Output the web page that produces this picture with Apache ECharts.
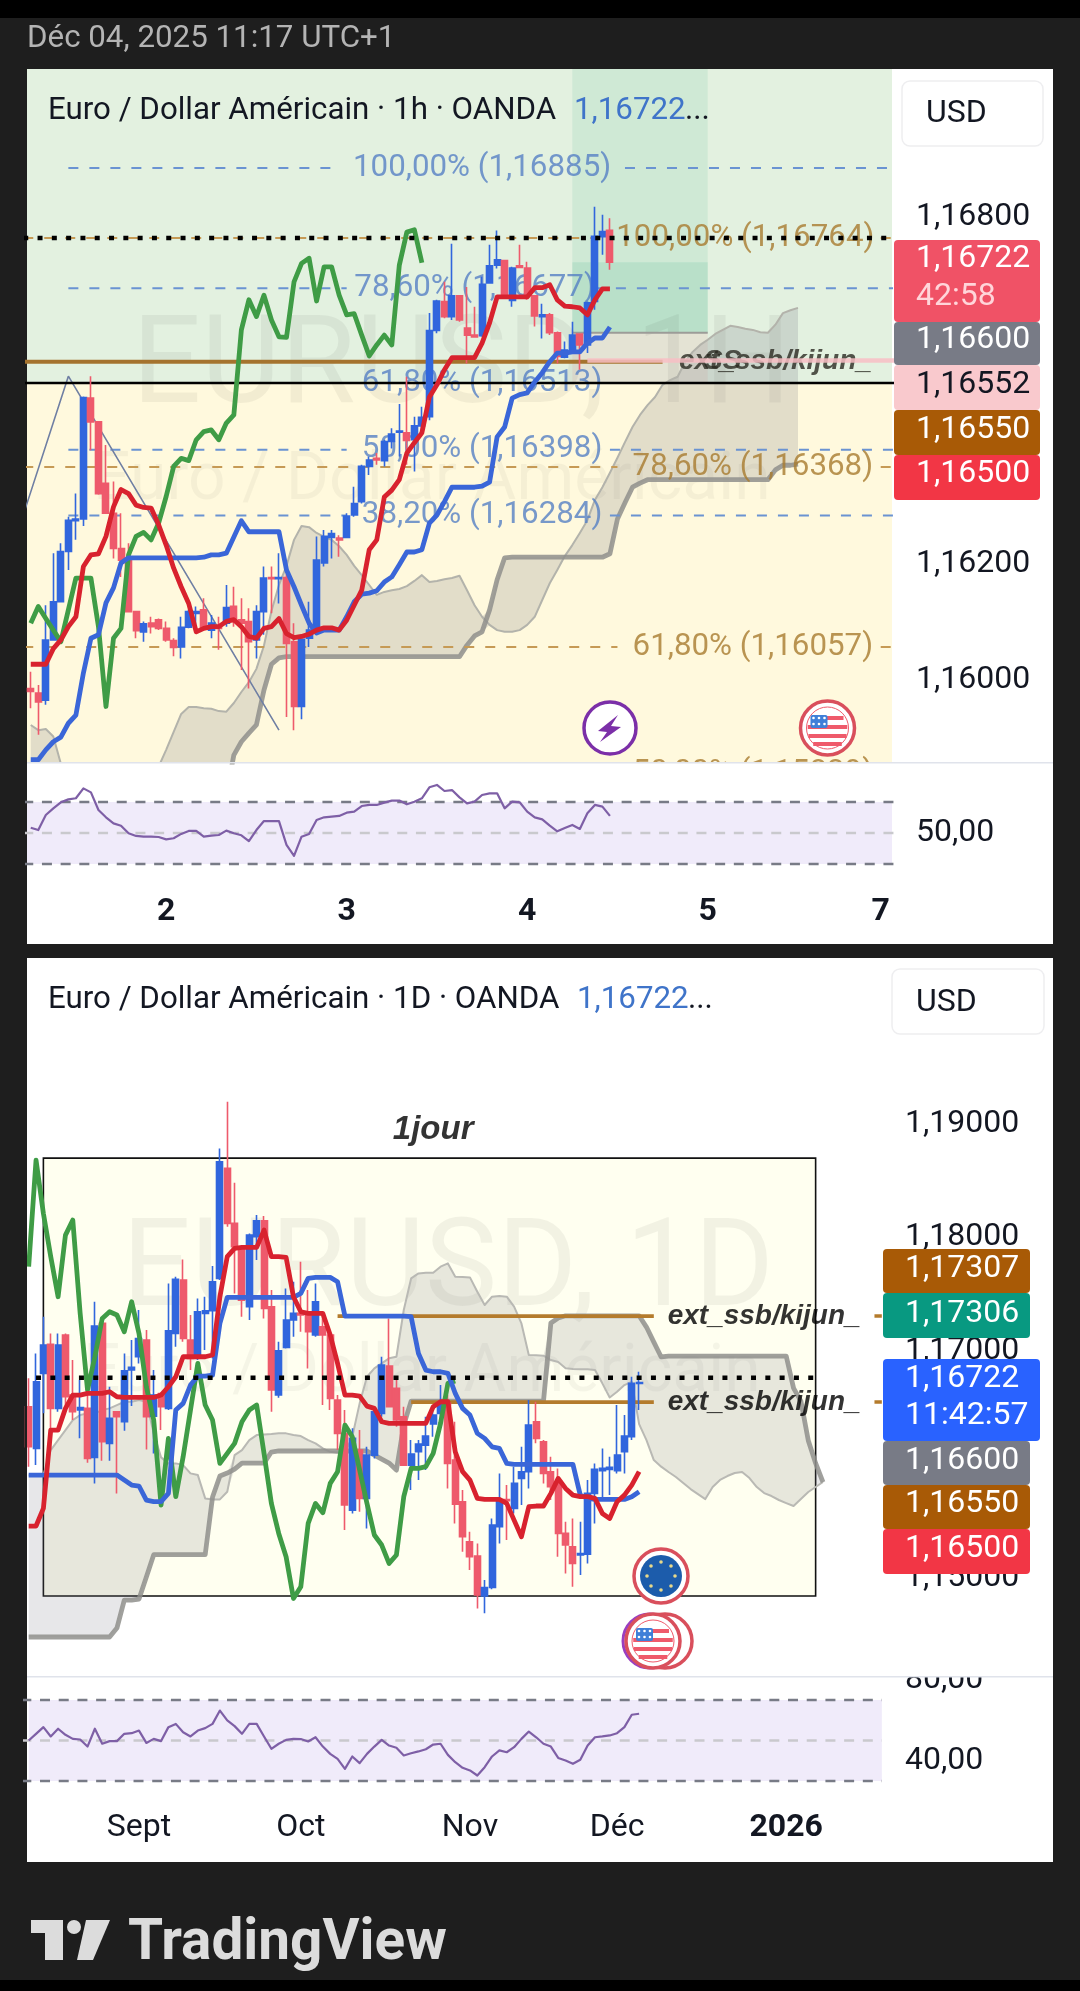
<!DOCTYPE html>
<html><head><meta charset="utf-8">
<style>html,body{margin:0;padding:0;background:#1e1e1e}#c{width:1080px;height:1991px}</style>
<script src="https://cdn.jsdelivr.net/npm/echarts@6/dist/echarts.min.js"></script>
</head><body><div id="c"></div>
<script>
// All prices are stored as points (1e-5) above the 1,16000 quote.
const QUOTE_BASE = 1.16, POINT = 1e-5;

// ---------- 1h chart ----------
const h1Open =[-15,-23,-35,69,135,222,275,278,487,446,340,288,227,210,118,83,98,104,89,68,57,91,115,121,86,92,98,127,104,101,69,118,177,175,177,66,-46,72,86,202,246,245,246,285,308,369,383,379,412,428,427,415,439,455,604,654,628,664,608,596,595,686,717,725,656,716,712,664,628,631,600,558,570,598,579,654,766,777];
const h1Close=[-20,-38,69,135,222,276,278,488,446,322,288,227,207,118,85,97,92,89,69,56,91,118,118,89,98,89,125,101,98,66,118,176,175,177,63,-46,70,86,207,248,253,242,283,305,369,380,380,412,425,430,414,439,454,604,655,628,664,622,596,593,684,716,726,665,712,713,665,629,631,600,559,570,596,579,652,767,775,722];
const h1Low  =[-49,-95,-43,69,135,190,242,266,397,320,288,210,178,118,72,66,80,86,66,41,37,89,89,86,72,52,92,92,17,-15,37,78,115,132,-64,-87,-68,57,86,196,210,213,245,282,305,354,372,369,400,386,372,360,432,449,599,625,622,619,547,593,593,686,711,663,645,712,657,611,590,596,547,556,565,536,565,640,735,709];
const h1High =[14,-9,129,219,236,282,322,490,525,446,406,343,288,236,118,101,109,106,101,72,109,121,127,141,112,109,164,161,141,124,129,196,196,219,184,98,72,135,248,259,259,250,288,334,372,386,392,415,435,477,524,455,472,634,657,688,754,665,679,645,697,752,777,726,714,752,723,665,650,634,602,585,619,599,654,818,804,798];
const h1Tenkan=[27,27,27,54,69,92,109,196,216,218,248,299,329,322,302,298,297,268,233,193,161,132,83,89,92,92,101,104,92,75,72,89,92,106,80,73,75,79,86,90,90,86,103,129,155,225,242,316,328,346,392,410,427,489,510,536,557,557,557,557,582,617,662,662,662,662,662,678,678,683,657,646,645,643,631,657,676,676];
const h1Kijun=[-138,-138,-121,-107,-99,-75,-61,12,72,78,133,159,202,211,211,211,211,211,211,211,211,211,211,212,216,216,219,247,275,256,256,256,256,256,190,161,129,98,81,86,86,86,109,135,148,150,154,169,178,199,221,221,225,271,285,308,333,333,333,333,335,342,420,437,487,493,496,515,531,550,565,565,567,567,582,591,591,610];
const h1Chikou=[98,127,106,86,66,121,176,176,176,92,-46,72,89,216,248,255,242,271,317,369,383,379,415,429,432,415,444,458,605,657,628,665,622,593,592,688,720,729,655,714,714,665,631,633,596,560,579,596,579,717,774,778,721];
const h1SpanA=[-78,-87,-85,-98,-145,null,null,null,null,null,null,null,null,null,null,null,null,-150,-121,-90,-59,-47,-47,-49,-50,-54,-55,-40,-21,-4,19,59,119,164,197,242,266,264,254,247,242,231,216,197,181,164,147,152,155,157,162,171,181,169,171,174,176,180,155,129,109,95,86,83,83,86,95,109,138,167,190,214,233,254,276,311,333,358,384,411,437,458,475,489,510,518,524,550,567,579,588,598,605,612,610,607,605,601,600,614,634,639,643];
const h1SpanB=[-200,-200,-200,-200,-200,-200,-200,-200,-200,-200,-200,-200,-200,-200,-200,-200,-200,-200,-200,-200,-200,-200,-200,-200,-200,-200,-200,-130,-107,-92,-78,-18,27,38,40,40,40,40,40,40,40,40,40,40,40,40,40,40,40,40,40,40,40,40,40,40,40,40,60,76,83,121,173,211,212,212,212,212,212,212,212,212,212,212,212,212,212,218,278,306,333,340,346,346,346,346,346,346,346,346,346,346,346,346,346,346,346,346,346,363,371,371,373];
const h1Rsi=[53.4,51.9,61.6,65.9,69.8,71.7,72.4,78.8,76.2,64.8,60.1,56.2,54.7,49.8,48.1,47.6,47.6,47.4,45.9,46.6,49.4,51.3,51.3,47.6,48.3,48.7,51.5,49.8,48.5,44.8,51.9,57.7,57.7,57.7,42.3,35.2,47.6,49.4,58.4,60.1,60.5,61,63.1,63.8,67.4,68.1,68.1,69.6,70.9,70.9,68.5,70.2,72.4,79.5,81,77.1,77.7,73,69.1,70.2,74.5,75.6,75.6,65.9,70.2,69.8,63.8,60.1,58.8,54.7,51.1,53.2,55.2,52.6,62.7,68.1,67,61];
const h1AxisTicks=[1.168,1.162,1.16];
const h1TickSlots=[18,42,66,90,113], h1TickLabels=['2','3','4','5','7'];
const h1BlueFibs=[1.16885,1.16677,1.16513,1.16398,1.16284];
const h1BlueFibTexts=['100,00% (1,16885)','78,60% (1,16677)','61,80% (1,16513)','50,00% (1,16398)','38,20% (1,16284)'];
const h1OrangeFibs=[1.16764,1.16368,1.16057,1.15839];
const h1OrangeFibTexts=['100,00% (1,16764)','78,60% (1,16368)','61,80% (1,16057)','50,00% (1,15839)'];
const h1TagTexts=[['1,16722','42:58'],['1,16600'],['1,16552'],['1,16550'],['1,16500']];

// ---------- daily chart ----------
const dOpen =[509,143,802,1058,495,1140,612,480,495,64,1242,187,465,377,832,949,1096,427,626,495,1154,1623,1096,949,1330,1354,1638,2606,2122,1917,1389,2004,2145,1389,612,1031,1272,1330,1330,1140,1213,1140,568,275,-400,128,-297,84,451,867,671,421,-4,114,172,357,451,539,40,-326,-678,-804,-1156,-1080,-546,-306,-385,-121,-62,377,201,-62,-165,-605,-722,-795,-787,-253,-54,-42,-54,114,245,715];
const dClose=[157,729,1052,495,1052,597,465,503,55,1219,201,407,421,826,855,1110,421,612,509,1178,1629,1110,934,1345,1354,1609,2664,2122,1917,1447,2019,2145,1374,656,1002,1272,1330,1316,1169,1433,1140,582,275,-355,231,-297,84,465,876,509,392,-4,93,181,251,436,533,11,-347,-634,-810,-1147,-1080,-531,-326,-317,-165,-62,348,231,-77,-194,-605,-707,-869,-781,-253,-42,-33,-24,84,251,715,722];
const dLow  =[-18,-4,451,128,465,495,392,231,17,-165,34,34,-253,298,515,890,134,99,304,480,1037,1081,832,920,1008,934,1623,2092,1506,1301,1272,1799,1286,465,589,1022,1125,1169,846,1125,524,480,128,-575,-429,-414,-561,55,421,509,333,-4,-224,-136,-48,245,333,-209,-517,-766,-927,-1265,-1308,-1097,-693,-663,-429,-356,-209,187,-165,-312,-810,-957,-1074,-971,-869,-517,-312,-268,-77,-77,216,480];
const dHigh =[759,978,1301,1154,1154,1154,920,744,626,1433,1242,685,465,978,1096,1360,1184,832,626,1594,1653,1805,1316,1462,1477,1747,2781,3192,2480,1917,2034,2195,2186,1535,1081,1550,1609,1785,1535,1594,1330,1154,612,480,319,304,157,480,949,1286,759,509,216,216,421,509,700,612,377,-224,-590,-693,-1015,-473,-77,-180,-18,157,568,553,216,70,-33,-502,-473,-502,-136,11,143,70,524,436,773,817];
const dTenkan=[-540,-540,-385,304,304,495,612,612,627,627,627,641,597,591,591,591,591,591,612,685,773,949,949,949,949,964,1477,1829,1902,1911,1911,1911,2063,1829,1829,1823,1477,1345,1330,1330,1330,1140,890,612,612,603,515,495,377,363,363,363,363,363,363,509,553,553,113,-62,-136,-297,-306,-306,-306,-341,-488,-634,-370,-364,-364,-253,-121,-209,-268,-282,-282,-297,-429,-473,-326,-268,-180,-62];
const dKijun=[-92,-92,-92,-92,-92,-92,-92,-92,-92,-92,-92,-92,-92,-136,-180,-188,-312,-326,-326,-253,480,539,700,779,779,788,1242,1471,1471,1471,1471,1471,1471,1471,1471,1471,1471,1506,1638,1647,1647,1647,1609,1307,1307,1307,1307,1307,1307,1307,1307,1307,1301,978,832,817,817,803,627,495,436,275,231,157,143,11,2,2,2,2,2,2,2,2,2,-268,-297,-306,-306,-306,-306,-306,-282,-238];
const dChikou=[1741,2679,2210,1829,1477,2019,2151,1330,656,949,1286,1345,1316,1169,1433,1154,685,392,-355,231,-282,69,480,890,524,392,11,99,187,377,480,524,99,-341,-605,-810,-1177,-1074,-517,-341,-423,-165,-62,348,245,-48,-341,-619,-707,-869,-795,-282,-33,-33,-18,99,363,715,735];
const dSpanA=[-92,-92,-92,128,216,304,392,436,451,451,480,495,524,553,553,568,553,275,64,11,11,-4,-77,-92,-297,-306,-306,-238,84,128,216,260,266,269,275,275,260,251,216,187,143,113,105,102,245,539,773,847,891,935,949,1360,1638,1682,1688,1688,1741,1770,1653,1650,1647,1521,1404,1477,1483,1477,1389,1242,964,961,958,920,902,847,841,838,838,832,715,591,641,700,729,357,216,40,-18,-65,-109,-162,-215,-259,-303,-197,-135,-100,-74,-65,-118,-197,-250,-276,-311,-338,-364,-303,-241,-197,-153];
const dSpanB=[-1516,-1516,-1516,-1516,-1516,-1516,-1516,-1516,-1516,-1516,-1516,-1516,-1437,-1191,-1191,-1182,-989,-792,-792,-792,-792,-792,-792,-792,-792,-285,-100,-74,-39,14,14,14,14,111,120,120,120,120,120,120,120,120,120,120,120,120,120,84,49,14,-48,348,559,559,559,559,559,559,559,559,559,559,559,559,559,559,559,559,559,559,559,1245,1289,1309,1309,1309,1309,1309,1309,1309,1309,1309,1309,1309,1210,1078,947,955,955,955,955,955,955,955,955,955,955,955,955,955,955,955,955,955,673,559,213,13,-153];
const dRsi=[50,53.3,56.6,52,55.8,52.8,50.8,50.5,47,55.8,48.4,49.7,49.7,53.3,53.6,54.9,48.8,50.8,49.7,56.6,58.2,54.1,52,54.9,56.1,58.2,64.8,59.9,57.1,53.3,58.2,58.2,52,45.9,48.4,50.3,50.8,50.7,49.5,51.6,47,43.4,40.9,36,42.1,38.8,43.4,47,50.3,47.5,46.4,42.6,43.7,44.6,45.7,48,48.4,42.9,39.3,36.5,35.2,32.7,36.8,42.1,45.1,44.2,46.7,50.8,54.4,51.6,48.4,47,41.4,40.1,38.5,40.5,47.5,51.6,52,52.5,53.6,56.6,62.7,63.2];
const dAxisTicks=[1.19,1.18,1.17,1.15];
const dTickSlots=[15,37,60,80,103], dTickLabels=['Sept','Oct','Nov','Déc','2026'];
const dLevelHigh=1.17307, dLevelLow=1.1655, dotLevel=1.16764;
const dTagTexts=[['1,17307'],['1,17306'],['1,16722','11:42:57'],['1,16600'],['1,16550'],['1,16500']];
const rsiBands=[70,50,30];

// ---------- helpers ----------
const P=v=>v==null?null:+(QUOTE_BASE+v*POINT).toFixed(5);
const FONT='Roboto, "Noto Sans", sans-serif';
const BLUE='#3166dd', RED='#ee5a6c', TEN='#d8222e', KIJ='#3a66d8', GRN='#3f9c46';
const TS=31.3, AX=32;
const series=[];
const xy=(g)=>({xAxisIndex:g,yAxisIndex:g});
function seg(g,val,from,to,color,width,dash,z,op){
  series.push({type:'line',...xy(g),z,silent:true,symbol:'none',animation:false,
    data:[[from,val],[to,val]],lineStyle:{color,width,type:dash||'solid',opacity:op==null?1:op,cap:'butt'}});
}
function lab(g,x,val,text,style,z){
  series.push({type:'scatter',...xy(g),z,clip:false,silent:true,symbolSize:0,data:[[x,val]],
    label:{show:true,position:'inside',formatter:text,fontFamily:FONT,...style}});
}
function cloud(g,a,b,name,fill,z){
  const low=a.map((v,i)=>v==null||b[i]==null?null:Math.min(v,b[i]));
  const diff=a.map((v,i)=>v==null||b[i]==null?null:Math.abs(v-b[i])*POINT);
  series.push({type:'line',...xy(g),z,stack:name,silent:true,symbol:'none',data:low.map(P),lineStyle:{width:0,opacity:0}});
  series.push({type:'line',...xy(g),z,stack:name,silent:true,symbol:'none',data:diff,lineStyle:{width:0,opacity:0},areaStyle:{color:fill,opacity:1}});
}
function line(g,arr,color,width,z,op){
  series.push({type:'line',...xy(g),z,silent:true,symbol:'none',data:arr.map(P),lineStyle:{color,width,opacity:op==null?1:op,join:'round'}});
}
function rsiLine(g,arr){
  series.push({type:'line',...xy(g),z:12,silent:true,symbol:'none',data:arr,lineStyle:{color:'#7e5fa6',width:2.2,join:'round'}});
}
function candles(g,o,c,l,h,z){
  series.push({type:'candlestick',...xy(g),z,silent:true,barWidth:6.5,
    data:o.map((v,i)=>[P(v),P(c[i]),P(l[i]),P(h[i])]),
    itemStyle:{color:BLUE,color0:RED,borderColor:BLUE,borderColor0:RED,borderWidth:1.6}});
}

// ---------- 1h main ----------
series.push({type:'line',...xy(0),z:1,silent:true,data:[],markArea:{silent:true,data:[
  [{yAxis:1.16513,itemStyle:{color:'#e3f1e0'}},{yAxis:1.17056}],
  [{coord:[72,1.166],itemStyle:{color:'rgba(40,170,120,0.10)'}},{coord:[90,1.17056]}],
  [{coord:[72,1.166],itemStyle:{color:'rgba(40,170,120,0.13)'}},{coord:[90,1.16722]}],
  [{coord:[72,1.16513],itemStyle:{color:'rgba(240,90,100,0.09)'}},{coord:[90,1.166]}]
]}});
cloud(0,h1SpanA,h1SpanB,'c1','rgba(110,112,125,0.20)',2);
line(0,h1SpanA,'#b3b3ab',2,2.2);
line(0,h1SpanB,'#8f8f8c',4.8,2.2,0.85);
const blueGaps=[[5,40,79,116],[5,42,75,116],[5,42,77,116],[5,42,77,116],[5,42,77,116]];
const blueCenters=[60,59,60,60,60];
h1BlueFibs.forEach((v,i)=>{
  const g=blueGaps[i];
  seg(0,v,g[0],g[1],'#6a93d2',2,[10,11],3);seg(0,v,g[2],g[3],'#6a93d2',2,[10,11],3);
  lab(0,blueCenters[i],v,h1BlueFibTexts[i],{color:'#5580c4',fontSize:TS},3);
});
const orangeCenters=[95,96,96,96];
const orangeEnds=[76,78,78];
h1OrangeFibs.forEach((v,i)=>{
  if(i<3){seg(0,v,-1,orangeEnds[i],'#c69a55',2,[10,11],3);seg(0,v,113,116,'#c69a55',2,[10,11],3);}
  lab(0,orangeCenters[i],v,h1OrangeFibTexts[i],{color:'#a87a2e',fontSize:TS},3);
});
seg(0,1.16513,-1,116,'#000',2.5,null,3.5);
seg(0,1.1655,-1,84,'#a5732e',4,null,3.4);
seg(0,1.166,72,90,'#9c9c98',2,null,3.3);
series.push({type:'line',...xy(0),z:3.2,silent:true,symbol:'none',data:[[-1,P(285)],[5,P(525)],[33,P(-87)]],lineStyle:{color:'#6f7fa3',width:1.6}});
candles(0,h1Open,h1Close,h1Low,h1High,4);
line(0,h1Chikou,GRN,4.8,5);
line(0,h1Kijun,KIJ,4.8,5.1);
line(0,h1Tenkan,TEN,4.8,5.2);
seg(0,1.16764,-1,116,'#000',4.5,[5,9.3],5.5);
lab(0,99,1.1655,'ext_ssb/kijun_',{color:'#2a2a22',fontSize:28,fontStyle:'italic',fontWeight:'bold',fontFamily:'"Liberation Sans"'},5.6);
lab(0,92,1.1655,'SS',{color:'#2a2a22',fontSize:28,fontStyle:'italic',fontWeight:'bold',fontFamily:'"Liberation Sans"'},5.6);
seg(0,1.16552,74,116,'rgba(248,190,196,0.85)',4.5,null,5.7);

// ---------- 1h rsi ----------
series.push({type:'line',...xy(1),z:1,silent:true,data:[],markArea:{silent:true,data:[[{yAxis:30,itemStyle:{color:'#f0ebfa'}},{yAxis:70}]]}});
seg(1,rsiBands[0],-1,116,'#787b86',2.5,[10,8.7],2);
seg(1,rsiBands[1],-1,116,'#c9c9cd',2.5,[10,8.7],2);
seg(1,rsiBands[2],-1,116,'#787b86',2.5,[10,8.7],2);
rsiLine(1,h1Rsi);

// ---------- daily main ----------
series.push({type:'line',...xy(2),z:1,silent:true,data:[],markArea:{silent:true,data:[
  [{coord:[2,1.18696],itemStyle:{color:'#fffff0',borderColor:'#111',borderWidth:1.6}},{coord:[107,1.14844]}]
]}});
cloud(2,dSpanA,dSpanB,'c2','rgba(110,112,125,0.17)',2);
line(2,dSpanA,'#b9b9b4',2,2.2);
line(2,dSpanB,'#8f8f8c',4.8,2.2,0.85);
seg(2,dLevelHigh,42,85,'#b47b2c',3.8,null,2.5);
seg(2,dLevelLow,52,85,'#b47b2c',3.8,null,2.5);
candles(2,dOpen,dClose,dLow,dHigh,4);
line(2,dChikou,GRN,4.8,5);
line(2,dKijun,KIJ,4.8,5.1);
line(2,dTenkan,TEN,4.8,5.2);
seg(2,dotLevel,1,107,'#000',4.5,[5,9.3],5.5);
lab(2,100,dLevelHigh,'ext_ssb/kijun_',{color:'#000',fontSize:28,fontStyle:'italic',fontWeight:'bold',fontFamily:'"Liberation Sans"'},6);
lab(2,100,dLevelLow,'ext_ssb/kijun_',{color:'#000',fontSize:28,fontStyle:'italic',fontWeight:'bold',fontFamily:'"Liberation Sans"'},6);
seg(2,dLevelHigh,115,116,'#b47b2c',3.5,null,6);
seg(2,dLevelLow,115,116,'#b47b2c',3.5,null,6);
lab(2,55,1.18947,'1jour',{color:'#000',fontSize:33,fontStyle:'italic',fontWeight:'bold',fontFamily:'"Liberation Sans"'},6);

// ---------- daily rsi ----------
series.push({type:'line',...xy(3),z:1,silent:true,data:[],markArea:{silent:true,data:[[{coord:[0,30],itemStyle:{color:'#f0ebfa'}},{coord:[116,70]}]]}});
seg(3,rsiBands[0],-1,116,'#787b86',2.5,[10,8.7],2);
seg(3,rsiBands[1],-1,116,'#c9c9cd',2.5,[10,8.7],2);
seg(3,rsiBands[2],-1,116,'#787b86',2.5,[10,8.7],2);
rsiLine(3,dRsi);

// ---------- axes ----------
const cats=n=>Array.from({length:n},(_,i)=>'b'+i);
function xAx(g,n,slots,labels){
  const base={type:'category',gridIndex:g,data:cats(n),axisLine:{show:false},axisTick:{show:false},splitLine:{show:false}};
  if(!slots) return {...base,axisLabel:{show:false}};
  return {...base,axisLabel:{show:true,margin:6,hideOverlap:false,fontFamily:FONT,fontSize:AX,color:'#131722',
    interval:(i)=>slots.includes(i),
    formatter:(v,i)=>{const k=slots.indexOf(i);if(k<0)return '';const t=labels[k];return /^\d+$/.test(t)?'{b|'+t+'}':t;},
    rich:{b:{fontWeight:'bold',fontSize:AX,fontFamily:FONT,color:'#131722'}}}};
}
function yAx(g,min,max,ticks,fmt,margin,pad){
  return {type:'value',gridIndex:g,position:'right',min,max,scale:true,axisLine:{show:false},axisTick:{show:false},splitLine:{show:false},
    axisLabel:{show:true,customValues:ticks,formatter:fmt,margin,fontFamily:FONT,fontSize:AX,color:'#131722',padding:pad}};
}
const priceFmt=v=>v.toFixed(5).replace('.',',');
const rsiFmt=v=>v.toFixed(2).replace('.',',');

// ---------- chrome ----------
const G=[];
const rect=(x,y,w,h,fill,z,r,stroke)=>G.push({type:'rect',z,silent:true,shape:{x,y,width:w,height:h,r:r||0},style:{fill,stroke:stroke||null,lineWidth:stroke?1.5:0}});
const text=(x,y,t,font,fill,z,align)=>G.push({type:'text',z,silent:true,x,y,style:{text:t,font,fill,align:align||'left',verticalAlign:'middle',textAlign:align||'left',textVerticalAlign:'middle'}});
const circ=(cx,cy,r,fill,stroke,lw,z)=>G.push({type:'circle',z,silent:true,shape:{cx,cy,r},style:{fill,stroke,lineWidth:lw}});
const poly=(pts,fill,z)=>G.push({type:'polygon',z,silent:true,shape:{points:pts},style:{fill}});

rect(0,0,1080,18,'#000',-9);
rect(0,1980,1080,11,'#000',-9);
rect(27,69,1026,875,'#fff',-9);
rect(27,958,1026,904,'#fff',-9);
text(27,39,'Déc 04, 2025 11:17 UTC+1',TS+'px '+FONT,'#b4b4b4',1);

// watermarks
text(132,371,'EURUSD, 1H','122px '+FONT,'rgba(0,0,0,0.05)',1.5);
text(93,482,'Euro / Dollar Américain','66px '+FONT,'rgba(0,0,0,0.04)',1.5);
text(122,1274,'EURUSD, 1D','122px '+FONT,'rgba(0,0,0,0.05)',1.5);
text(83,1374,'Euro / Dollar Américain','66px '+FONT,'rgba(0,0,0,0.04)',1.5);

// titles
text(48,111,'Euro / Dollar Américain · 1h · OANDA',TS+'px '+FONT,'#131722',8);
text(574,111,'1,16722',TS+'px '+FONT,'#3f74c9',8);
text(685,111,'...',TS+'px '+FONT,'#131722',8);
text(48,1000,'Euro / Dollar Américain · 1D · OANDA',TS+'px '+FONT,'#131722',8);
text(577,1000,'1,16722',TS+'px '+FONT,'#3f74c9',8);
text(688,1000,'...',TS+'px '+FONT,'#131722',8);

// USD boxes
rect(902,81,141,65,'#fff',8,8,'#eeeef0');text(926,114,'USD',AX+'px '+FONT,'#131722',8);
rect(892,969,152,65,'#fff',8,8,'#eeeef0');text(916,1003,'USD',AX+'px '+FONT,'#131722',8);

// covers and dividers
rect(620,763,272,34,'#fff',10);
rect(885,1640,168,37,'#fff',10);
rect(25,958,2,718,'#1e1e1e',10);
rect(27,762,1026,1.5,'#e0e3eb',11);
rect(27,1676,1026,1.5,'#e0e3eb',11);

// price tags
function tag(x,y,w,h,col,z){rect(x,y,w,h,col,z,4);}
const hx=894,hw=146,tf=AX+'px '+FONT;
tag(hx,240,hw,82,'#f05266',20);
text(916,259,h1TagTexts[0][0],tf,'#fff',21);text(916,297,h1TagTexts[0][1],tf,'#ffd5da',21);
tag(hx,322,hw,43,'#787b86',20);text(916,340,h1TagTexts[1][0],tf,'#fff',21);
tag(hx,365,hw,45,'#f9c9cd',20);text(916,385,h1TagTexts[2][0],tf,'#131722',21);
tag(hx,410,hw,45,'#a85a06',20);text(916,430,h1TagTexts[3][0],tf,'#fff',21);
tag(hx,455,hw,45,'#f23645',20);text(916,474,h1TagTexts[4][0],tf,'#fff',21);
const dx=883,dw=147;
tag(dx,1249,dw,44,'#a85a06',20);text(905,1269,dTagTexts[0][0],tf,'#fff',21);
tag(dx,1293,dw,45,'#089981',20);text(905,1314,dTagTexts[1][0],tf,'#fff',21);
tag(dx,1359,157,82,'#2962ff',20);text(905,1379,dTagTexts[2][0],tf,'#fff',21);text(905,1416,dTagTexts[2][1],tf,'#fff',21);
tag(dx,1441,dw,44,'#787b86',20);text(905,1461,dTagTexts[3][0],tf,'#fff',21);
tag(dx,1485,dw,44,'#a85a06',20);text(905,1504,dTagTexts[4][0],tf,'#fff',21);
tag(dx,1529,dw,45,'#f23645',20);text(905,1549,dTagTexts[5][0],tf,'#fff',21);

// event icons
function usFlag(cx,cy,z,ring){
  circ(cx,cy,27,'#fff',ring,3.5,z);
  circ(cx,cy,21,'#fff','#ef5a6b',1,z);
  const stripes=[-12,-3,6,14];
  stripes.forEach(o=>{const hw2=Math.sqrt(Math.max(0,20*20-o*o));rect(cx-hw2,cy+o,hw2*2,4,'#ef5a6b',z);});
  rect(cx-17,cy-13,17,13,'#3f7fd8',z,2);
  for(let r=0;r<2;r++)for(let c=0;c<3;c++)circ(cx-14+c*5.5,cy-10+r*6,1.3,'#fff','#fff',0,z);
}
circ(610,728,26,'#fff','#7b2fa8',3.5,9);
poly([[618,715],[598,731],[607,732],[600,742],[621,727],[611,726]],'#7b2fa8',9);
usFlag(827.5,728,9,'#d94f5c');
circ(661,1576,27,'#fff','#d94f5c',3.5,9);
circ(661,1576,21,'#1c5cab','#1c5cab',0,9);
[[0,-14],[10,-10],[14,0],[10,10],[0,14],[-10,10],[-14,0],[-10,-10]].forEach(p=>circ(661+p[0],1576+p[1],1.8,'#e8d98a','#e8d98a',0,9));
circ(665,1641,27,'#fff','#d94f5c',3.5,9);
circ(650,1641,27,'#fff','#9a3fc0',3,9);
usFlag(653,1641,9,'#d94f5c');

// logo
poly([[31,1920],[63,1920],[63,1960],[45,1960],[45,1933],[31,1933]],'#dcdcdc',2);
circ(74,1927,7,'#dcdcdc','#dcdcdc',0,2);
poly([[86,1920],[110,1920],[93,1960],[77,1960]],'#dcdcdc',2);
text(128,1945,'TradingView','bold 56.7px '+FONT,'#dcdcdc',2);

echarts.init(document.getElementById('c'),null,{renderer:'canvas',width:1080,height:1991}).setOption({
  animation:false,backgroundColor:'#1e1e1e',
  grid:[
    {left:27,top:69,width:865,height:693,show:true,backgroundColor:'#fff9dd',borderWidth:0},
    {left:27,top:763,width:865,height:127,show:false},
    {left:25,top:958,width:860.5,height:718,show:false},
    {left:25,top:1677,width:860.5,height:129,show:false}
  ],
  xAxis:[xAx(0,115),xAx(1,115,h1TickSlots,h1TickLabels),xAx(2,117),xAx(3,117,dTickSlots,dTickLabels)],
  yAxis:[
    yAx(0,1.15858,1.17056,h1AxisTicks,priceFmt,24,[0,0,7,0]),
    yAx(1,13.2,95.16,[50],rsiFmt,24,[0,0,8,0]),
    yAx(2,1.14141,1.20456,dAxisTicks,priceFmt,19.5,[0,0,6,0]),
    yAx(3,17.65,81.36,[80,40],rsiFmt,19.5,[0,0,6,0])
  ],
  graphic:{elements:G},
  series
});
</script></body></html>
